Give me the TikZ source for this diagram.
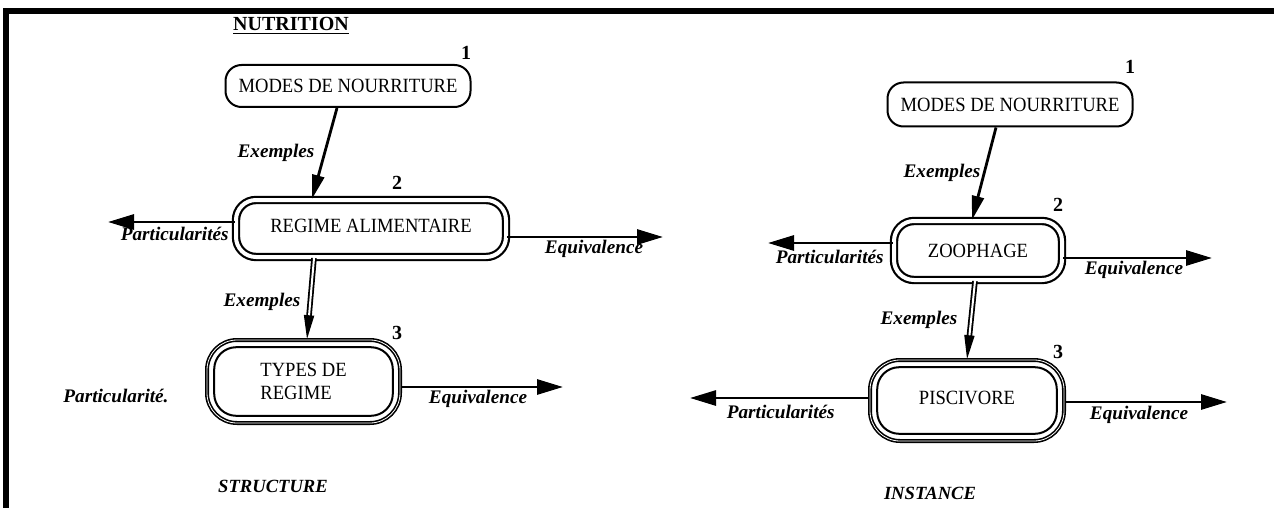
\documentclass[tikz,border=0pt]{standalone}
\usepackage{fontspec}
\setmainfont{Liberation Serif}
\newfontfamily\boxfam[FakeStretch=0.92]{Liberation Serif}
\usetikzlibrary{arrows.meta,calc}
\begin{document}
\begin{tikzpicture}[x=0.5pt,y=-0.5pt,
 boxfont/.style={font=\boxfam\fontsize{10.1}{11.5}\selectfont},
 boxone/.style={boxfont, draw, line width=1pt, rounded corners=8pt, inner sep=0pt},
 boxtwo/.style={boxfont, draw, double, line width=1.1pt, double distance=2pt, rounded corners=10pt, inner sep=0pt},
 boxthree/.style={boxfont, draw, double, line width=0.8pt, double distance=0.4pt, rounded corners=15pt, inner sep=0pt, align=left},
 ring/.style={line width=1pt, rounded corners=11pt},
 lab/.style={font=\fontsize{9.6}{11}\selectfont\bfseries\itshape, inner sep=0pt},
 ttl/.style={font=\fontsize{9.3}{11}\selectfont\bfseries\itshape, inner sep=0pt},
 num/.style={font=\fontsize{10}{12}\selectfont\bfseries, inner sep=0pt},
 conn/.style={line width=1.4pt, -{Triangle[length=12pt,width=6pt]}},
 side/.style={line width=1.4pt, -{Triangle[length=13pt,width=7.5pt]}},
 dbl/.style={double, line width=0.9pt, double distance=1pt, -{Triangle[length=12pt,width=5pt]}},
]
\useasboundingbox (0,0) rectangle (1274,508);
% frame
\draw[line width=2.8pt] (6,512) -- (6,11) -- (1278,11);

% ---------------- left: STRUCTURE ----------------
\node[font=\fontsize{10}{12}\selectfont\bfseries, inner sep=0pt] (title) at (291,26) {\underline{NUTRITION}};
\node[num] (n1L) at (466,53) {1};
\node[boxone, minimum width=122.5pt, minimum height=21pt] (L1) at (348,86) {MODES DE NOURRITURE};
\node[num] (n2L) at (397,183) {2};
\node[boxtwo, minimum width=135pt, minimum height=28.5pt] (L2) at (371,228.5) {\raisebox{2.5pt}{REGIME ALIMENTAIRE}};
\node[num] (n3L) at (397,333) {3};
\node[boxthree, minimum width=96.5pt, minimum height=41.5pt] (L3) at (303.5,381.5) {TYPES DE\\REGIME};
\draw[ring] ($(L3.north west)+(8,8)$) rectangle ($(L3.south east)+(-8,-8)$);

\draw[conn] ([xshift=-5.5pt]L1.south) -- ([xshift=-29.5pt]L2.north);
\node[lab] (exL1) at (276,153) {Exemples};
\draw[dbl] ([xshift=-28.5pt]L2.south) -- ([xshift=1.75pt]L3.north);
\node[lab] (exL2) at (262,302) {Exemples};

\coordinate (L2p) at (108,222);
\coordinate (L2e) at (663,237);
\draw[side] (L2.west |- L2p) -- (L2p);
\draw[side] (L2.east |- L2e) -- (L2e);
\node[lab, anchor=east] (pL2) at (229,234) {Particularités};
\node[lab] (eL2) at (594,249) {Equivalence};

\coordinate (L3e) at (563,387);
\draw[side] (L3.east |- L3e) -- (L3e);
\node[lab] (pL3) at (116,396) {Particularité.};
\node[lab] (eL3) at (478,399) {Equivalence};

\node[ttl] (struct) at (273,486) {STRUCTURE};

% ---------------- right: INSTANCE ----------------
\node[num] (n1R) at (1130,67) {1};
\node[boxone, minimum width=122.5pt, minimum height=22pt] (R1) at (1010,104.5) {MODES DE NOURRITURE};
\node[num] (n2R) at (1058,205) {2};
\node[boxtwo, minimum width=84pt, minimum height=29.5pt] (R2) at (978,250.5) {ZOOPHAGE};
\node[num] (n3R) at (1058,352) {3};
\node[boxthree, minimum width=97pt, minimum height=40.5pt] (R3) at (967,400.5) {\raisebox{2.5pt}{PISCIVORE}};
\draw[ring] ($(R3.north west)+(8,8)$) rectangle ($(R3.south east)+(-8,-8)$);

\draw[conn] ([xshift=-7pt]R1.south) -- ([xshift=-3pt]R2.north);
\node[lab] (exR1) at (942,173) {Exemples};
\draw[dbl] ([xshift=-1.5pt]R2.south) -- (R3.north);
\node[lab] (exR2) at (919,320) {Exemples};

\coordinate (R2p) at (768,243);
\coordinate (R2e) at (1212,258);
\draw[side] (R2.west |- R2p) -- (R2p);
\draw[side] (R2.east |- R2e) -- (R2e);
\node[lab, anchor=east] (pR2) at (884,257) {Particularités};
\node[lab] (eR2) at (1134,270) {Equivalence};

\coordinate (R3p) at (690,398);
\coordinate (R3e) at (1227,402);
\draw[side] (R3.west |- R3p) -- (R3p);
\draw[side] (R3.east |- R3e) -- (R3e);
\node[lab, anchor=east] (pR3) at (835,412) {Particularités};
\node[lab] (eR3) at (1139,415) {Equivalence};

\node[ttl] (inst) at (930,493) {INSTANCE};
\end{tikzpicture}
\end{document}
